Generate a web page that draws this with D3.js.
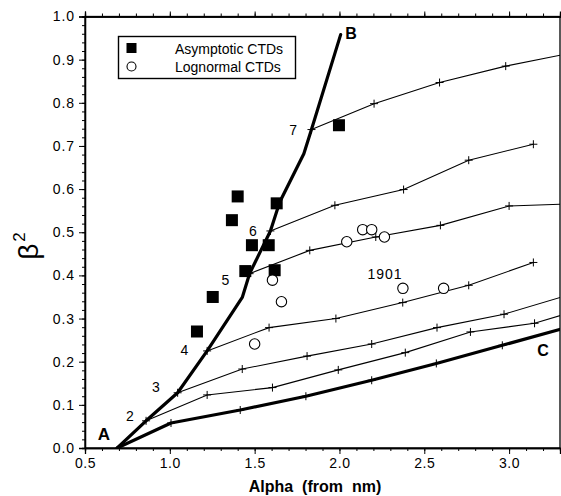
<!DOCTYPE html>
<html>
<head>
<meta charset="utf-8">
<script src="https://cdn.jsdelivr.net/npm/d3@7"></script>
<style>
  html, body { margin: 0; padding: 0; background: #fff; }
  svg { display: block; font-family: "Liberation Sans", Arial, Helvetica, sans-serif; }
</style>
</head>
<body>
<svg id="chart" width="561" height="496"></svg>
<script>
// Boundary A–B (thick): alpha, beta^2
const curveAB = [[0.69, 0.0], [0.86, 0.063], [1.046, 0.128], [1.22, 0.225], [1.427, 0.349],
  [1.47, 0.404], [1.593, 0.503], [1.648, 0.57], [1.79, 0.682], [1.835, 0.738], [2.007, 0.958]];
// Boundary A–C (thick)
const curveAC = [[0.69, 0.0], [1.007, 0.058], [1.415, 0.088], [1.802, 0.12], [2.19, 0.157],
  [2.571, 0.196], [2.96, 0.238], [3.31, 0.276]];
// Thin curves starting from numbered points 2..7 on A–B
const curve2 = [[0.86, 0.063], [1.22, 0.123], [1.605, 0.14], [1.993, 0.181], [2.388, 0.221],
  [2.772, 0.269], [3.15, 0.289], [3.31, 0.308]];
const curve3 = [[1.046, 0.128], [1.427, 0.183], [1.809, 0.213], [2.19, 0.241], [2.575, 0.279],
  [2.97, 0.31], [3.31, 0.35]];
const curve4 = [[1.22, 0.225], [1.585, 0.279], [1.979, 0.3], [2.373, 0.337], [2.762, 0.377],
  [3.143, 0.43]];
const curve5 = [[1.47, 0.404], [1.825, 0.458], [2.214, 0.489], [2.595, 0.516], [3.0, 0.561],
  [3.31, 0.565]];
const curve6 = [[1.593, 0.503], [1.973, 0.5625], [2.378, 0.599], [2.762, 0.667], [3.143, 0.704]];
const curve7 = [[1.835, 0.738], [2.204, 0.798], [2.59, 0.847], [2.98, 0.885], [3.31, 0.911]];
const thinCurves = [curve2, curve3, curve4, curve5, curve6, curve7];

// Point labels on A–B
const pointLabels = ["2", "3", "4", "5", "6", "7"];
const pointLabelAt = [[0.764, 0.074], [0.918, 0.142], [1.086, 0.228], [1.327, 0.389], [1.49, 0.503], [1.727, 0.736]];

// Observed size distributions
const asymptoticAlpha = [1.16, 1.253, 1.366, 1.40, 1.484, 1.445, 1.583, 1.618, 1.63, 1.997];
const asymptoticBeta2 = [0.27, 0.35, 0.528, 0.583, 0.47, 0.41, 0.47, 0.412, 0.567, 0.748];
const lognormalAlpha = [1.5, 1.605, 1.658, 2.043, 2.137, 2.19, 2.265, 2.374, 2.614];
const lognormalBeta2 = [0.241, 0.389, 0.339, 0.478, 0.506, 0.506, 0.489, 0.37, 0.37];

// Axis ticks
const xTicks = [0.5, 1.0, 1.5, 2.0, 2.5, 3.0];
const yTicks = [0.0, 0.1, 0.2, 0.3, 0.4, 0.5, 0.6, 0.7, 0.8, 0.9, 1.0];
const legendLabels = ["Asymptotic CTDs", "Lognormal CTDs"];

(function draw() {
  const svg = d3.select("#chart");
  const pL = 85, pR = 560, pT = 16.5, pB = 448;
  const x = d3.scaleLinear().domain([0.5, 3.3]).range([pL, pR]);
  const y = d3.scaleLinear().domain([0, 1]).range([pB, pT]);

  svg.append("defs").append("clipPath").attr("id", "plotClip")
    .append("rect").attr("x", pL).attr("y", pT).attr("width", pR - pL).attr("height", pB - pT);

  // Frame
  svg.append("rect").attr("x", pL).attr("y", pT).attr("width", pR - pL).attr("height", pB - pT)
    .attr("fill", "none").attr("stroke", "#000").attr("stroke-width", 1.3);

  // Axes
  const minorX = d3.range(0.5, 3.3001, 0.1);
  const minorY = d3.range(0, 1.0001, 0.02);
  const fmt = d3.format(".1f");

  const xAx = svg.append("g").attr("transform", `translate(0,${pB})`)
    .call(d3.axisBottom(x).tickValues(xTicks).tickFormat(fmt).tickSize(6).tickPadding(4));
  svg.append("g").attr("transform", `translate(0,${pB})`)
    .call(d3.axisBottom(x).tickValues(minorX).tickFormat("").tickSize(3));
  svg.append("g").attr("transform", `translate(0,${pT})`)
    .call(d3.axisTop(x).tickValues(xTicks).tickFormat("").tickSize(5));
  svg.append("g").attr("transform", `translate(0,${pT})`)
    .call(d3.axisTop(x).tickValues(minorX).tickFormat("").tickSize(3));
  const yAx = svg.append("g").attr("transform", `translate(${pL},0)`)
    .call(d3.axisLeft(y).tickValues(yTicks).tickFormat(fmt).tickSize(6).tickPadding(4));
  svg.append("g").attr("transform", `translate(${pL},0)`)
    .call(d3.axisLeft(y).tickValues(minorY).tickFormat("").tickSize(3));

  svg.selectAll(".domain").attr("stroke", "#000").attr("stroke-width", 1.3);
  svg.selectAll(".tick line").attr("stroke", "#000").attr("stroke-width", 1);
  svg.selectAll(".tick text").attr("fill", "#000")
    .attr("font-family", "'Liberation Sans', Arial, sans-serif");
  xAx.selectAll(".tick text").attr("font-size", 14).attr("letter-spacing", 0.6);
  yAx.selectAll(".tick text").attr("font-size", 14).attr("letter-spacing", 0.9);

  // Axis titles
  svg.append("text").attr("x", 315).attr("y", 492)
    .attr("text-anchor", "middle").attr("font-size", 16).attr("font-weight", "bold")
    .style("white-space", "pre")
    .text("Alpha  (from  nm)");
  const yt = svg.append("text").attr("transform", "translate(38,246) rotate(-90)")
    .attr("text-anchor", "middle").attr("font-size", 28);
  yt.append("tspan").text("β");
  yt.append("tspan").attr("font-size", 17).attr("dy", -13).attr("dx", 2).text("2");

  const plot = svg.append("g").attr("clip-path", "url(#plotClip)");
  const line = d3.line().x(d => x(d[0])).y(d => y(d[1]));

  // Thin curves
  plot.selectAll("path.thin").data(thinCurves).enter().append("path")
    .attr("class", "thin").attr("d", line)
    .attr("fill", "none").attr("stroke", "#000").attr("stroke-width", 1.1);

  // Thick boundaries
  plot.selectAll("path.thick").data([curveAB, curveAC]).enter().append("path")
    .attr("class", "thick").attr("d", line)
    .attr("fill", "none").attr("stroke", "#000").attr("stroke-width", 3.2)
    .attr("stroke-linejoin", "round").attr("stroke-linecap", "round");

  // "+" markers at curve vertices
  const crossPts = [];
  thinCurves.forEach(c => c.forEach(p => { if (p[0] < 3.29) crossPts.push(p); }));
  curveAC.slice(1, -1).forEach(p => crossPts.push(p));
  const cross = plot.selectAll("g.cross").data(crossPts).enter().append("g")
    .attr("transform", d => `translate(${x(d[0])},${y(d[1])})`);
  cross.append("line").attr("x1", -4).attr("x2", 4).attr("stroke", "#000").attr("stroke-width", 1);
  cross.append("line").attr("y1", -4).attr("y2", 4).attr("stroke", "#000").attr("stroke-width", 1);

  // Point labels
  svg.selectAll("text.plab").data(pointLabels).enter().append("text")
    .attr("x", (d, i) => x(pointLabelAt[i][0])).attr("y", (d, i) => y(pointLabelAt[i][1]) + 5)
    .attr("text-anchor", "middle").attr("font-size", 14).text(d => d);

  // Boundary letters
  svg.append("text").attr("x", 104).attr("y", 440).attr("text-anchor", "middle")
    .attr("font-size", 17).attr("font-weight", "bold").text("A");
  svg.append("text").attr("x", 351).attr("y", 39).attr("text-anchor", "middle")
    .attr("font-size", 16).attr("font-weight", "bold").text("B");
  svg.append("text").attr("x", 543).attr("y", 356).attr("text-anchor", "middle")
    .attr("font-size", 16).attr("font-weight", "bold").text("C");
  svg.append("text").attr("x", 385).attr("y", 279).attr("text-anchor", "middle")
    .attr("font-size", 14).attr("letter-spacing", 1).text("1901");

  // Data symbols
  svg.selectAll("rect.asym").data(asymptoticAlpha).enter().append("rect")
    .attr("x", d => x(d) - 6).attr("y", (d, i) => y(asymptoticBeta2[i]) - 6)
    .attr("width", 12).attr("height", 12).attr("fill", "#000");
  svg.selectAll("circle.logn").data(lognormalAlpha).enter().append("circle")
    .attr("cx", d => x(d)).attr("cy", (d, i) => y(lognormalBeta2[i])).attr("r", 5.2)
    .attr("fill", "#fff").attr("stroke", "#000").attr("stroke-width", 1.1);

  // Legend
  const lg = svg.append("g");
  lg.append("rect").attr("x", 118.5).attr("y", 36.5).attr("width", 177).attr("height", 42)
    .attr("fill", "#fff").attr("stroke", "#000").attr("stroke-width", 1.4);
  lg.append("rect").attr("x", 126.5).attr("y", 43).attr("width", 10).attr("height", 10).attr("fill", "#000");
  lg.append("circle").attr("cx", 131.5).attr("cy", 66.5).attr("r", 4.5)
    .attr("fill", "#fff").attr("stroke", "#000").attr("stroke-width", 1.1);
  lg.selectAll("text.lgt").data(legendLabels).enter().append("text")
    .attr("x", 175).attr("y", (d, i) => 53.5 + i * 18.5).attr("font-size", 14).text(d => d);
})();
</script>
</body>
</html>
